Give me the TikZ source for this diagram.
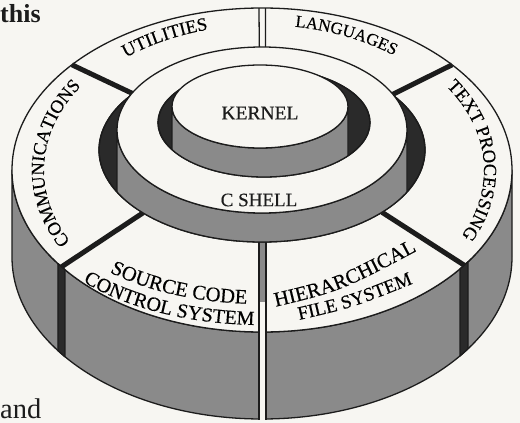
\documentclass[tikz,border=0pt]{standalone}
\usepackage{fontspec}
\setmainfont{Liberation Serif}
\newfontfamily\lblfam{Liberation Serif}[FakeBold=0.4]
\usetikzlibrary{calc,decorations.text}
\definecolor{paper}{HTML}{F7F6F2}
\definecolor{wallgray}{HTML}{8A8A8A}
\definecolor{shade}{HTML}{2A2A2A}
\definecolor{ink}{HTML}{1C1C1C}
\newcommand\EArc[6]{($(#1,#2)+(#5:#3 and #4)$) arc[start angle=#5,end angle=#6,x radius=#3,y radius=#4]}
\newcommand\lblsz[1]{\lblfam\fontsize{#1}{#1}\selectfont}
\tikzset{
 outline/.style={draw=ink, line width=1.3pt},
 wallface/.style={fill=wallgray, outline},
 topface/.style={fill=paper, outline},
 holeface/.style={fill=shade, outline},
 divider/.style={draw=ink, line width=5pt},
 arclabel/.style={decorate, decoration={text along path, text align=center, text={#1}}},
 plainlabel/.style={text=ink, inner sep=0pt},
}
\begin{document}
\begin{tikzpicture}[x=1pt,y=-1pt,line join=round]
\fill[paper] (0,0) rectangle (520,423);
\useasboundingbox (0,0) rectangle (520,423);

% outer ring wall
\path[wallface] \EArc{262}{170}{250}{162}{0}{180} -- ++(0,87) arc[start angle=180,end angle=0,x radius=250,y radius=162] -- cycle;
% outer ring top
\path[topface] (262,170) ellipse [x radius=250, y radius=162];

% visible end faces of sectors
\coordinate (cL1) at ($(262,170)+(144.7:250 and 162)$);
\coordinate (cL2) at ($(262,170)+(142:250 and 162)$);
\coordinate (cR1) at ($(262,170)+(34.5:250 and 162)$);
\coordinate (cR2) at ($(262,170)+(37.6:250 and 162)$);
\path[holeface] (cL1) -- (cL2) -- ($(cL2)+(0,87)$) -- ($(cL1)+(0,87)$) -- cycle;
\path[holeface] (cR1) -- (cR2) -- ($(cR2)+(0,87)$) -- ($(cR1)+(0,87)$) -- cycle;

% front gap
\fill[paper] (259,242) rectangle (266,421);
\fill[wallgray] (259,242) rectangle (266,302);
\draw[outline] (259,242) -- (259,419.5) (266,242) -- (266,419.5);

% hole of the outer ring
\path[holeface] (262,150) ellipse [x radius=163, y radius=92];

% dividers
\coordinate (d1o) at ($(262,170)+(-139.5:250 and 162)$);
\coordinate (d1i) at ($(262,150)+(-142.3:163 and 92)$);
\coordinate (d2o) at ($(262,170)+(-40.5:250 and 162)$);
\coordinate (d2i) at ($(262,150)+(-37:163 and 92)$);
\coordinate (d3o) at ($(262,170)+(36:250 and 162)$);
\coordinate (d3i) at ($(262,150)+(42.6:163 and 92)$);
\coordinate (d4o) at ($(262,170)+(143.3:250 and 162)$);
\coordinate (d4i) at ($(262,150)+(136.9:163 and 92)$);
\draw[divider] (d1o) -- (d1i);
\draw[divider] (d2o) -- (d2i);
\draw[divider] (d3o) -- (d3i);
\draw[divider] (d4o) -- (d4i);
\coordinate (b1) at ($(262,170)+(-90.7:250 and 162)$);
\coordinate (b2) at ($(262,170)+(-89.2:250 and 162)$);
\draw[outline] (b1) -- (259.5,60);
\draw[outline] (b2) -- (265.5,60);

% C shell
\begin{scope}
\clip (262,150) ellipse [x radius=163, y radius=92];
\path[wallface] \EArc{262}{130}{145}{83}{0}{180} -- ++(0,89) arc[start angle=180,end angle=0,x radius=145,y radius=83] -- cycle;
\end{scope}
\draw[outline] (262,150) ellipse [x radius=163, y radius=92];
\path[topface] (262,130) ellipse [x radius=145, y radius=83];

% kernel
\path[holeface] (264,122.6) ellipse [x radius=106, y radius=54.4];
\begin{scope}
\clip (264,122.6) ellipse [x radius=106, y radius=54.4];
\path[wallface] \EArc{260}{106.5}{88}{41.5}{0}{180} -- ++(0,60) arc[start angle=180,end angle=0,x radius=88,y radius=41.5] -- cycle;
\end{scope}
\draw[outline] (264,122.6) ellipse [x radius=106, y radius=54.4];
\path[topface] (260,106.5) ellipse [x radius=88, y radius=41.5];

% labels
\node[plainlabel, font=\lblsz{19.5}] (kernel) at (260,113) {KERNEL};
\node[plainlabel, font=\lblsz{19}] (cshell) at (259,200) {C SHELL};
\path[arclabel={|\lblsz{18.5}|UTILITIES}] \EArc{262}{165}{212}{140}{-149}{-89};
\path[arclabel={|\lblsz{17}|LANGUAGES}] \EArc{262}{165}{212}{140}{-94.9}{-34.9};
\path[arclabel={|\lblsz{18.5}|TEXT PROCESSING}] \EArc{262}{170}{222}{150}{-48.5}{41.5};
\path[arclabel={|\lblsz{18.5}|COMMUNICATIONS}] \EArc{262}{170}{218}{150}{137.5}{227.5};
\path[arclabel={|\lblsz{20.5}|SOURCE CODE}] \EArc{262}{196}{215}{108}{151.9}{81.9};
\path[arclabel={|\lblsz{20}|CONTROL SYSTEM}] \EArc{262}{195}{240}{130}{153.6}{80.8};
\path[arclabel={|\lblsz{20.5}|HIERARCHICAL}] (266,309) .. controls (340.7,291.5) .. (426,246);
\path[arclabel={|\lblsz{19}|FILE SYSTEM}] (290,322) .. controls (353.3,307.7) .. (422,280);

\node[anchor=base west, inner sep=0pt, text=ink, font=\fontsize{26}{26}\selectfont\bfseries] (wthis) at (0,22) {this};
\node[anchor=base west, inner sep=0pt, text=ink, font=\fontsize{28.5}{28.5}\selectfont] (wand) at (0,418) {and};
\end{tikzpicture}
\end{document}
